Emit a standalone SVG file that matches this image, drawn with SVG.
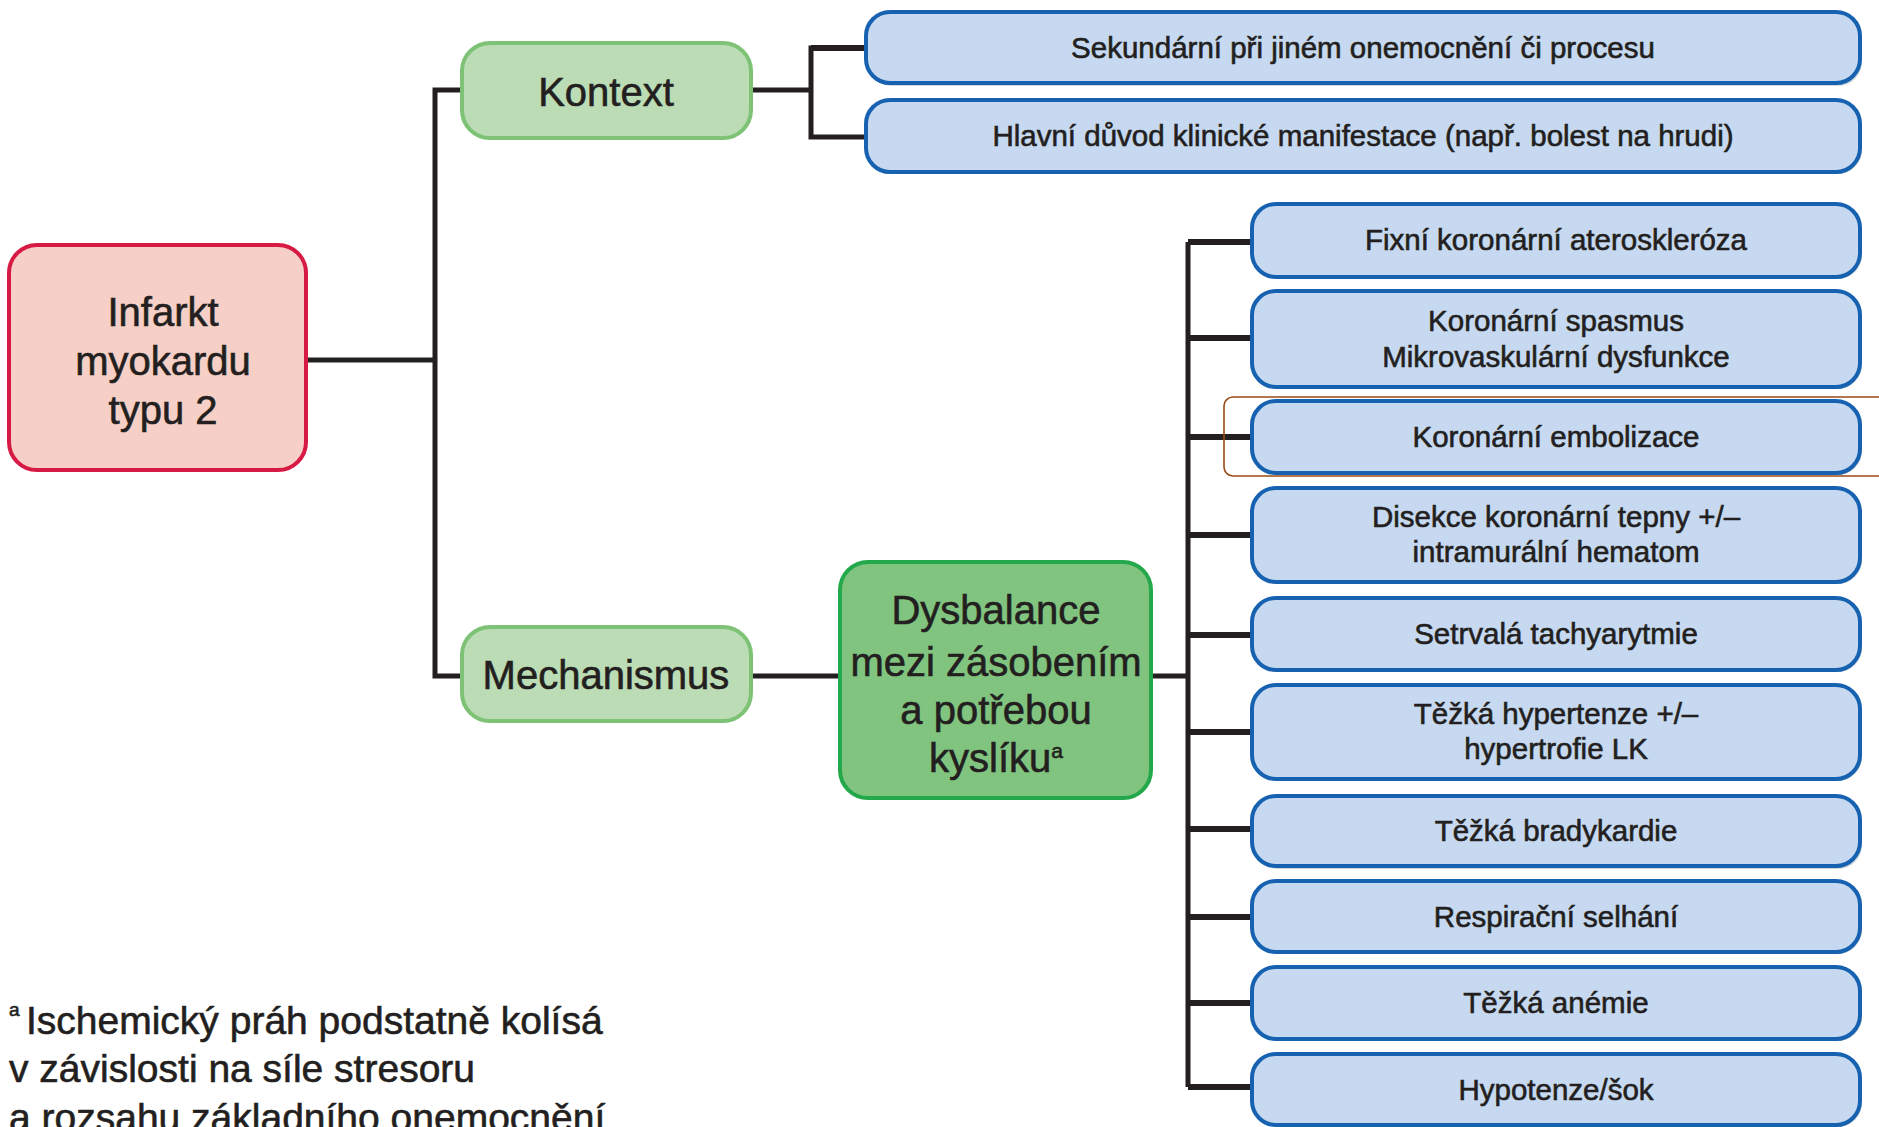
<svg xmlns="http://www.w3.org/2000/svg" width="1879" height="1127" viewBox="0 0 1879 1127">
  <style>
    text { font-family: "Liberation Sans", Arial, sans-serif; fill: #231f20; stroke: #231f20; stroke-width: 0.6; }
    .c { text-anchor: middle; }
    .root { fill: #f6cfc6; stroke: #d71a43; stroke-width: 4; }
    .cat { fill: #bbdcb4; stroke: #7dc275; stroke-width: 4; }
    .mech { fill: #80c47f; stroke: #23a84b; stroke-width: 4; }
    .leaf { fill: #c6d9f0; stroke: #1762b0; stroke-width: 4; }
    .shadow { fill: #7f8a99; opacity: 0.35; }
    .big { font-size: 40px; }
    .mid { font-size: 29.5px; }
    .note { font-size: 39px; }
    .wire { fill: none; stroke: #231f20; stroke-width: 5; stroke-linejoin: miter; stroke-linecap: butt; }
    .twig { fill: none; stroke: #231f20; stroke-width: 6; }
    .mark { fill: none; stroke: #9a4a16; stroke-width: 1.6; }
  </style>

  <rect width="1879" height="1127" fill="#ffffff"/>

  <!-- connectors -->
  <g id="connectors">
    <path class="wire" d="M306 360 H435 M462 90 H435 V676 H462"/>
    <path class="wire" d="M751 90 H811 M866 48 H811 V137 H866"/>
    <path class="twig" d="M811 48 H866" stroke-width="7"/>
    <path class="wire" d="M751 676 H840"/>
    <path class="wire" d="M1151 676 H1188"/>
    <path class="wire" d="M1188 242 V1087"/>
    <path class="twig" d="M1188 242 H1252 M1188 338 H1252 M1188 437 H1252 M1188 535 H1252 M1188 635 H1252 M1188 732 H1252 M1188 829 H1252 M1188 917 H1252 M1188 1003 H1252 M1188 1087 H1252"/>
  </g>

  <!-- root -->
  <g id="n-root">
    <rect class="root" x="9" y="245" width="297" height="225" rx="28"/>
    <text class="c big" x="163" y="326">Infarkt</text>
    <text class="c big" x="163" y="375">myokardu</text>
    <text class="c big" x="163" y="424">typu 2</text>
  </g>

  <!-- categories -->
  <g id="n-kontext">
    <rect class="cat" x="462" y="43" width="289" height="95" rx="28"/>
    <text class="c big" x="606" y="106">Kontext</text>
  </g>
  <g id="n-mechanismus">
    <rect class="cat" x="462" y="627" width="289" height="94" rx="28"/>
    <text class="c big" x="606" y="689">Mechanismus</text>
  </g>
  <g id="n-dysbalance">
    <rect class="mech" x="840" y="562" width="311" height="236" rx="28"/>
    <text class="c big" x="996" y="624">Dysbalance</text>
    <text class="c big" x="996" y="676">mezi zásobením</text>
    <text class="c big" x="996" y="724">a potřebou</text>
    <text class="c big" x="996" y="772">kyslíku<tspan font-size="21" dy="-14">a</tspan></text>
  </g>

  <!-- context leaves -->
  <g id="n-sekundarni">
    <rect class="shadow" x="868" y="15" width="994" height="71" rx="24"/>
    <rect class="leaf" x="866" y="12" width="994" height="71" rx="24"/>
    <text class="c mid" x="1363" y="58">Sekundární při jiném onemocnění či procesu</text>
  </g>
  <g id="n-hlavni">
    <rect class="shadow" x="868" y="103" width="994" height="71" rx="24"/>
    <rect class="leaf" x="866" y="100" width="994" height="72" rx="24"/>
    <text class="c mid" x="1363" y="146">Hlavní důvod klinické manifestace (např. bolest na hrudi)</text>
  </g>

  <!-- mechanism leaves -->
  <g id="n-fixni">
    <rect class="shadow" x="1254" y="207" width="608" height="72" rx="24"/>
    <rect class="leaf" x="1252" y="204" width="608" height="73" rx="24"/>
    <text class="c mid" x="1556" y="250">Fixní koronární ateroskleróza</text>
  </g>
  <g id="n-spasmus">
    <rect class="shadow" x="1254" y="294" width="608" height="95" rx="24"/>
    <rect class="leaf" x="1252" y="291" width="608" height="96" rx="24"/>
    <text class="c mid" x="1556" y="331">Koronární spasmus</text>
    <text class="c mid" x="1556" y="367">Mikrovaskulární dysfunkce</text>
  </g>
  <g id="n-embolizace">
    <rect class="mark" x="1224" y="397" width="664" height="79" rx="9"/>
    <rect class="shadow" x="1254" y="404" width="608" height="71" rx="24"/>
    <rect class="leaf" x="1252" y="401" width="608" height="72" rx="24"/>
    <text class="c mid" x="1556" y="447">Koronární embolizace</text>
  </g>
  <g id="n-disekce">
    <rect class="shadow" x="1254" y="491" width="608" height="93" rx="24"/>
    <rect class="leaf" x="1252" y="488" width="608" height="94" rx="24"/>
    <text class="c mid" x="1556" y="527">Disekce koronární tepny +/–</text>
    <text class="c mid" x="1556" y="562">intramurální hematom</text>
  </g>
  <g id="n-tachyarytmie">
    <rect class="shadow" x="1254" y="601" width="608" height="71" rx="24"/>
    <rect class="leaf" x="1252" y="598" width="608" height="72" rx="24"/>
    <text class="c mid" x="1556" y="644">Setrvalá tachyarytmie</text>
  </g>
  <g id="n-hypertenze">
    <rect class="shadow" x="1254" y="688" width="608" height="93" rx="24"/>
    <rect class="leaf" x="1252" y="685" width="608" height="94" rx="24"/>
    <text class="c mid" x="1556" y="724">Těžká hypertenze +/–</text>
    <text class="c mid" x="1556" y="759">hypertrofie LK</text>
  </g>
  <g id="n-bradykardie">
    <rect class="shadow" x="1254" y="799" width="608" height="70" rx="24"/>
    <rect class="leaf" x="1252" y="796" width="608" height="70" rx="24"/>
    <text class="c mid" x="1556" y="841">Těžká bradykardie</text>
  </g>
  <g id="n-respiracni">
    <rect class="shadow" x="1254" y="884" width="608" height="70" rx="24"/>
    <rect class="leaf" x="1252" y="881" width="608" height="71" rx="24"/>
    <text class="c mid" x="1556" y="927">Respirační selhání</text>
  </g>
  <g id="n-anemie">
    <rect class="shadow" x="1254" y="970" width="608" height="71" rx="24"/>
    <rect class="leaf" x="1252" y="967" width="608" height="72" rx="24"/>
    <text class="c mid" x="1556" y="1013">Těžká anémie</text>
  </g>
  <g id="n-hypotenze">
    <rect class="shadow" x="1254" y="1057" width="608" height="70" rx="24"/>
    <rect class="leaf" x="1252" y="1054" width="608" height="71" rx="24"/>
    <text class="c mid" x="1556" y="1100">Hypotenze/šok</text>
  </g>

  <!-- footnote (last line runs past the lower edge) -->
  <g id="footnote">
    <text x="9" y="1016" font-size="19">a</text>
    <text class="note" x="26" y="1034">Ischemický práh podstatně kolísá</text>
    <text class="note" x="9" y="1082">v závislosti na síle stresoru</text>
    <text class="note" x="9" y="1131">a rozsahu základního onemocnění</text>
  </g>
</svg>
